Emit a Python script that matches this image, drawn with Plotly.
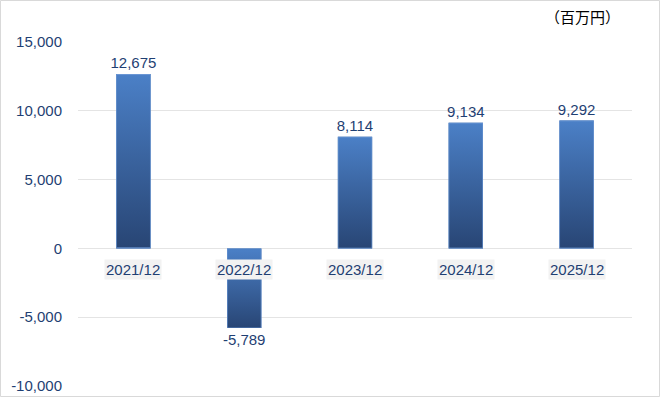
import base64
import plotly.graph_objects as go

categories = ["2021/12", "2022/12", "2023/12", "2024/12", "2025/12"]
values = [12675, -5789, 8114, 9134, 9292]
value_labels = ["12,675", "-5,789", "8,114", "9,134", "9,292"]
ytick_vals = [-10000, -5000, 0, 5000, 10000, 15000]
ytick_text = ["-10,000", "-5,000", "0", "5,000", "10,000", "15,000"]
unit_label = "（百万円）"

W, H = 660, 397
L, R, T, B = 78, 28, 42, 11
text_color = "#1f3f73"
font_family = "Liberation Sans, Arial, sans-serif"
bar_width = 0.31

fig = go.Figure()
fig.add_trace(go.Bar(
    x=categories, y=values,
    marker=dict(color="#3a66a4", line=dict(width=0)),
    width=bar_width,
    text=value_labels, textposition="outside", cliponaxis=False,
    constraintext="none",
    textfont=dict(color=text_color, size=15, family=font_family),
    hoverinfo="skip",
))

# vertical gradient overlay for each bar (light top -> dark bottom)
svg = ('<svg xmlns="http://www.w3.org/2000/svg" width="34" height="100" viewBox="0 0 34 100" '
       'preserveAspectRatio="none"><defs><linearGradient id="g" x1="0" y1="0" x2="0" y2="1">'
       '<stop offset="0" stop-color="#4b80c7"/><stop offset="1" stop-color="#284574"/>'
       '</linearGradient></defs><rect x="0" y="0" width="34" height="100" fill="url(#g)" '
       'stroke="#6a96d4" stroke-width="1.2"/></svg>')
svg_uri = "data:image/svg+xml;base64," + base64.b64encode(svg.encode()).decode()
for i, v in enumerate(values):
    fig.add_layout_image(source=svg_uri, xref="x", yref="y", x=i, y=max(v, 0),
                         sizex=bar_width, sizey=abs(v), xanchor="center", yanchor="top",
                         sizing="stretch", layer="above")

for c in categories:
    fig.add_annotation(x=c, y=0, xref="x", yref="y", text=c, showarrow=False,
                       yanchor="top", yshift=-11, bgcolor="#f2f2f2", borderpad=1,
                       font=dict(color=text_color, size=15, family=font_family))

pw, ph = W - L - R, H - T - B
fig.add_annotation(x=(622 - L) / pw, y=1 + 26 / ph, xref="paper", yref="paper",
                   text=unit_label, showarrow=False, xanchor="right", yanchor="middle",
                   font=dict(color="#000000", size=15, family="Noto Sans CJK JP"))

fig.add_shape(type="rect", xref="paper", yref="paper",
              x0=-(L - 0.5) / pw, x1=1 + (R - 0.5) / pw,
              y0=-(B - 0.5) / ph, y1=1 + (T - 0.5) / ph,
              line=dict(color="#d9d9d9", width=1), fillcolor="rgba(0,0,0,0)", layer="below")

fig.update_layout(
    width=W, height=H,
    margin=dict(l=L, r=R, t=T, b=B, autoexpand=False),
    paper_bgcolor="white", plot_bgcolor="white",
    showlegend=False,
    xaxis=dict(showticklabels=False, showgrid=False, zeroline=False, showline=False,
               range=[-0.5, 4.5], automargin=False),
    yaxis=dict(range=[-10000, 15000], tickvals=ytick_vals, ticktext=ytick_text,
               showgrid=True, gridcolor="#e4e4e4", gridwidth=1,
               zeroline=True, zerolinecolor="#e4e4e4", zerolinewidth=1,
               showline=False, ticks="", ticklabelstandoff=15, automargin=False,
               tickfont=dict(color=text_color, size=15, family=font_family)),
)

fig.write_html("out.html",
               post_script="document.body.style.margin='0';document.body.style.overflow='hidden';",
               config={"displayModeBar": False})
